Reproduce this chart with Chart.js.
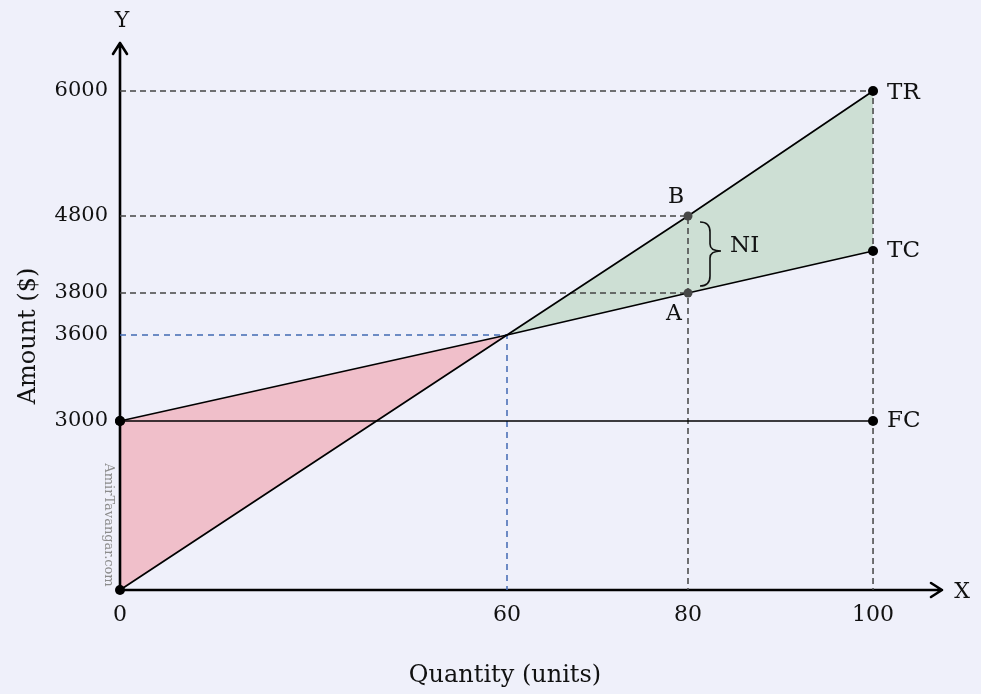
<!DOCTYPE html>
<html><head><meta charset="utf-8">
<script src="https://cdn.jsdelivr.net/npm/chart.js@4/dist/chart.umd.min.js"></script>
<style>html,body{margin:0;padding:0;background:#eff0fa;}canvas{display:block}</style>
</head><body>
<canvas id="c" width="981" height="694"></canvas>
<script>
// ---- data ----
const quantities   = [0, 60, 80, 100];
const totalRevenue = [0, 3600, 4800, 6000];
const totalCost    = [3000, 3600, 3800, 4000];
const fixedCost    = [3000, 3000, 3000, 3000];
const xTicks = [0, 60, 80, 100];
const yTicks = [3000, 3600, 3800, 4800, 6000];
const seriesNames = ['TR', 'TC', 'FC'];
const pointNames = ['B', 'A'];
const gapName = 'NI';
const xTitle = 'Quantity (units)';
const yTitle = 'Amount ($)';
const credit = 'AmirTavangar.com';

// ---- schematic (non-linear) axis: piecewise-linear scale ----
class PiecewiseScale extends Chart.LinearScale {
  _frac(v) {
    const b = this.options.breaks;
    if (v <= b[0][0]) return b[0][1];
    for (let i = 1; i < b.length; i++) {
      if (v <= b[i][0]) {
        const [v0, f0] = b[i - 1], [v1, f1] = b[i];
        return f0 + (v - v0) / (v1 - v0) * (f1 - f0);
      }
    }
    return b[b.length - 1][1];
  }
  getPixelForValue(value) { return this.getPixelForDecimal(this._frac(value)); }
  getValueForPixel(pixel) {
    const f = this.getDecimalForPixel(pixel), b = this.options.breaks;
    for (let i = 1; i < b.length; i++) {
      if (f <= b[i][1]) {
        const [v0, f0] = b[i - 1], [v1, f1] = b[i];
        return v0 + (f - f0) / (f1 - f0) * (v1 - v0);
      }
    }
    return b[b.length - 1][0];
  }
}
PiecewiseScale.id = 'piecewise';
PiecewiseScale.defaults = Chart.LinearScale.defaults;
Chart.register(PiecewiseScale);

const FONT = '"DejaVu Serif", serif';
const pts = (ys, n) => quantities.slice(0, n || quantities.length).map((q, i) => ({x: q, y: ys[i]}));

const guideGrey = '#444', guideBlue = '#4269b3';
const datasets = [
  { label: seriesNames[0], data: pts(totalRevenue), borderColor: '#000', borderWidth: 1.7,
    fill: {target: 1, above: '#cddfd4', below: '#f0bfca'},
    pointRadius: [5, 0, 4.5, 5], pointBackgroundColor: ['#000', '#000', '#474747', '#000'], pointBorderWidth: 0 },
  { label: seriesNames[1], data: pts(totalCost), borderColor: '#000', borderWidth: 1.7, fill: false,
    pointRadius: [5, 0, 4.5, 5], pointBackgroundColor: ['#000', '#000', '#474747', '#000'], pointBorderWidth: 0 },
  { label: seriesNames[2], data: pts(fixedCost), borderColor: '#000', borderWidth: 1.5, fill: false,
    pointRadius: [5, 0, 0, 5], pointBackgroundColor: '#000', pointBorderWidth: 0 },
  { label: 'g-tr', data: [{x: xTicks[0], y: totalRevenue[3]}, {x: quantities[3], y: totalRevenue[3]}, {x: quantities[3], y: 0}],
    borderColor: guideGrey, borderWidth: 1.5, borderDash: [6, 4], pointRadius: 0, fill: false },
  { label: 'g-b', data: [{x: xTicks[0], y: totalRevenue[2]}, {x: quantities[2], y: totalRevenue[2]}, {x: quantities[2], y: 0}],
    borderColor: guideGrey, borderWidth: 1.5, borderDash: [6, 4], pointRadius: 0, fill: false },
  { label: 'g-a', data: [{x: xTicks[0], y: totalCost[2]}, {x: quantities[2], y: totalCost[2]}],
    borderColor: guideGrey, borderWidth: 1.5, borderDash: [6, 4], pointRadius: 0, fill: false },
  { label: 'g-be', data: [{x: xTicks[0], y: totalCost[1]}, {x: quantities[1], y: totalCost[1]}, {x: quantities[1], y: 0}],
    borderColor: guideBlue, borderWidth: 1.5, borderDash: [6, 5], pointRadius: 0, fill: false }
];
datasets.forEach(d => { d.clip = false; d.tension = 0; });

const decor = {
  id: 'decor',
  beforeDraw(chart) {
    const c = chart.ctx; c.save(); c.fillStyle = '#eff0fa'; c.fillRect(0, 0, chart.width, chart.height); c.restore();
  },
  beforeDatasetsDraw(chart) {
    const c = chart.ctx, a = chart.chartArea;
    c.save(); c.strokeStyle = '#000'; c.lineWidth = 2.6; c.lineCap = 'round'; c.lineJoin = 'round';
    c.beginPath(); c.moveTo(a.left, a.bottom); c.lineTo(a.left, a.top - 2);
    c.moveTo(a.left - 7, a.top + 9); c.lineTo(a.left, a.top - 2); c.lineTo(a.left + 7, a.top + 9);
    c.moveTo(a.left, a.bottom); c.lineTo(a.right, a.bottom);
    c.moveTo(a.right - 11, a.bottom - 7); c.lineTo(a.right, a.bottom); c.lineTo(a.right - 11, a.bottom + 7);
    c.stroke(); c.restore();
  },
  afterDatasetsDraw(chart) {
    const c = chart.ctx, a = chart.chartArea, X = chart.scales.x, Y = chart.scales.y;
    const px = v => X.getPixelForValue(v), py = v => Y.getPixelForValue(v);
    c.save(); c.fillStyle = '#111'; c.textBaseline = 'middle';
    c.font = '23px ' + FONT; c.textAlign = 'left';
    const xe = px(quantities[3]) + 14;
    c.fillText(seriesNames[0], xe, py(totalRevenue[3]) + 2);
    c.fillText(seriesNames[1], xe, py(totalCost[3]));
    c.fillText(seriesNames[2], xe, py(fixedCost[3]));
    c.font = '22px ' + FONT; c.textAlign = 'center';
    c.fillText(pointNames[0], px(quantities[2]) - 12, py(totalRevenue[2]) - 19);
    c.fillText(pointNames[1], px(quantities[2]) - 14, py(totalCost[2]) + 21);
    // brace for NI
    const xb = px(quantities[2]), yT = py(totalRevenue[2]) + 6, yB = py(totalCost[2]) - 7, yM = (yT + yB) / 2 - 3;
    const x0 = xb + 12, x1 = xb + 22, x2 = xb + 33;
    c.strokeStyle = '#111'; c.lineWidth = 1.6; c.beginPath();
    c.moveTo(x0, yT); c.quadraticCurveTo(x1, yT, x1, yT + 10); c.lineTo(x1, yM - 7);
    c.quadraticCurveTo(x1, yM, x2, yM); c.quadraticCurveTo(x1, yM, x1, yM + 7);
    c.lineTo(x1, yB - 10); c.quadraticCurveTo(x1, yB, x0, yB); c.stroke();
    c.font = '23px ' + FONT; c.textAlign = 'left';
    c.fillText(gapName, xb + 42, yM - 5);
    // axis letters
    c.font = '22px ' + FONT; c.textAlign = 'center';
    c.fillText('Y', a.left + 2, a.top - 24);
    c.fillText('X', a.right + 20, a.bottom + 2);
    // axis titles
    c.font = '24px ' + FONT;
    c.fillText(xTitle, 505, 676);
    c.save(); c.translate(29, 336); c.rotate(-Math.PI / 2); c.fillText(yTitle, 0, 0); c.restore();
    // credit
    c.fillStyle = '#8c8c8c'; c.font = '13px ' + FONT;
    c.save(); c.translate(a.left - 12, 525); c.rotate(Math.PI / 2); c.fillText(credit, 0, 0); c.restore();
    c.restore();
  }
};

new Chart(document.getElementById('c'), {
  type: 'line',
  data: { datasets },
  options: {
    responsive: false, animation: false, devicePixelRatio: 1,
    layout: { padding: { top: 45, right: 39, bottom: 0, left: 0 } },
    plugins: { legend: { display: false }, tooltip: { enabled: false }, filler: { drawTime: 'beforeDatasetsDraw' } },
    scales: {
      x: { type: 'piecewise', min: 0, max: 110,
        breaks: [[0, 0], [60, 0.4708], [80, 0.6910], [100, 0.9161], [110, 1]],
        afterBuildTicks: s => { s.ticks = xTicks.map(v => ({value: v})); },
        afterFit: s => { s.height = 104; },
        grid: { display: false, drawTicks: false }, border: { display: false },
        ticks: { autoSkip: false, maxRotation: 0, padding: 12, color: '#111', font: { family: FONT, size: 22 }, callback: v => String(v) } },
      y: { type: 'piecewise', min: 0, max: 6500,
        breaks: [[0, 0], [3000, 0.3101], [3600, 0.4679], [3800, 0.5450], [4000, 0.6220], [4800, 0.6862], [6000, 0.9156], [6500, 1]],
        afterBuildTicks: s => { s.ticks = yTicks.map(v => ({value: v})); },
        afterFit: s => { s.width = 120; },
        grid: { display: false, drawTicks: false }, border: { display: false },
        ticks: { autoSkip: false, padding: 12, color: '#111', font: { family: FONT, size: 21 }, callback: v => String(v) } }
    }
  },
  plugins: [decor]
});
</script>
</body></html>
